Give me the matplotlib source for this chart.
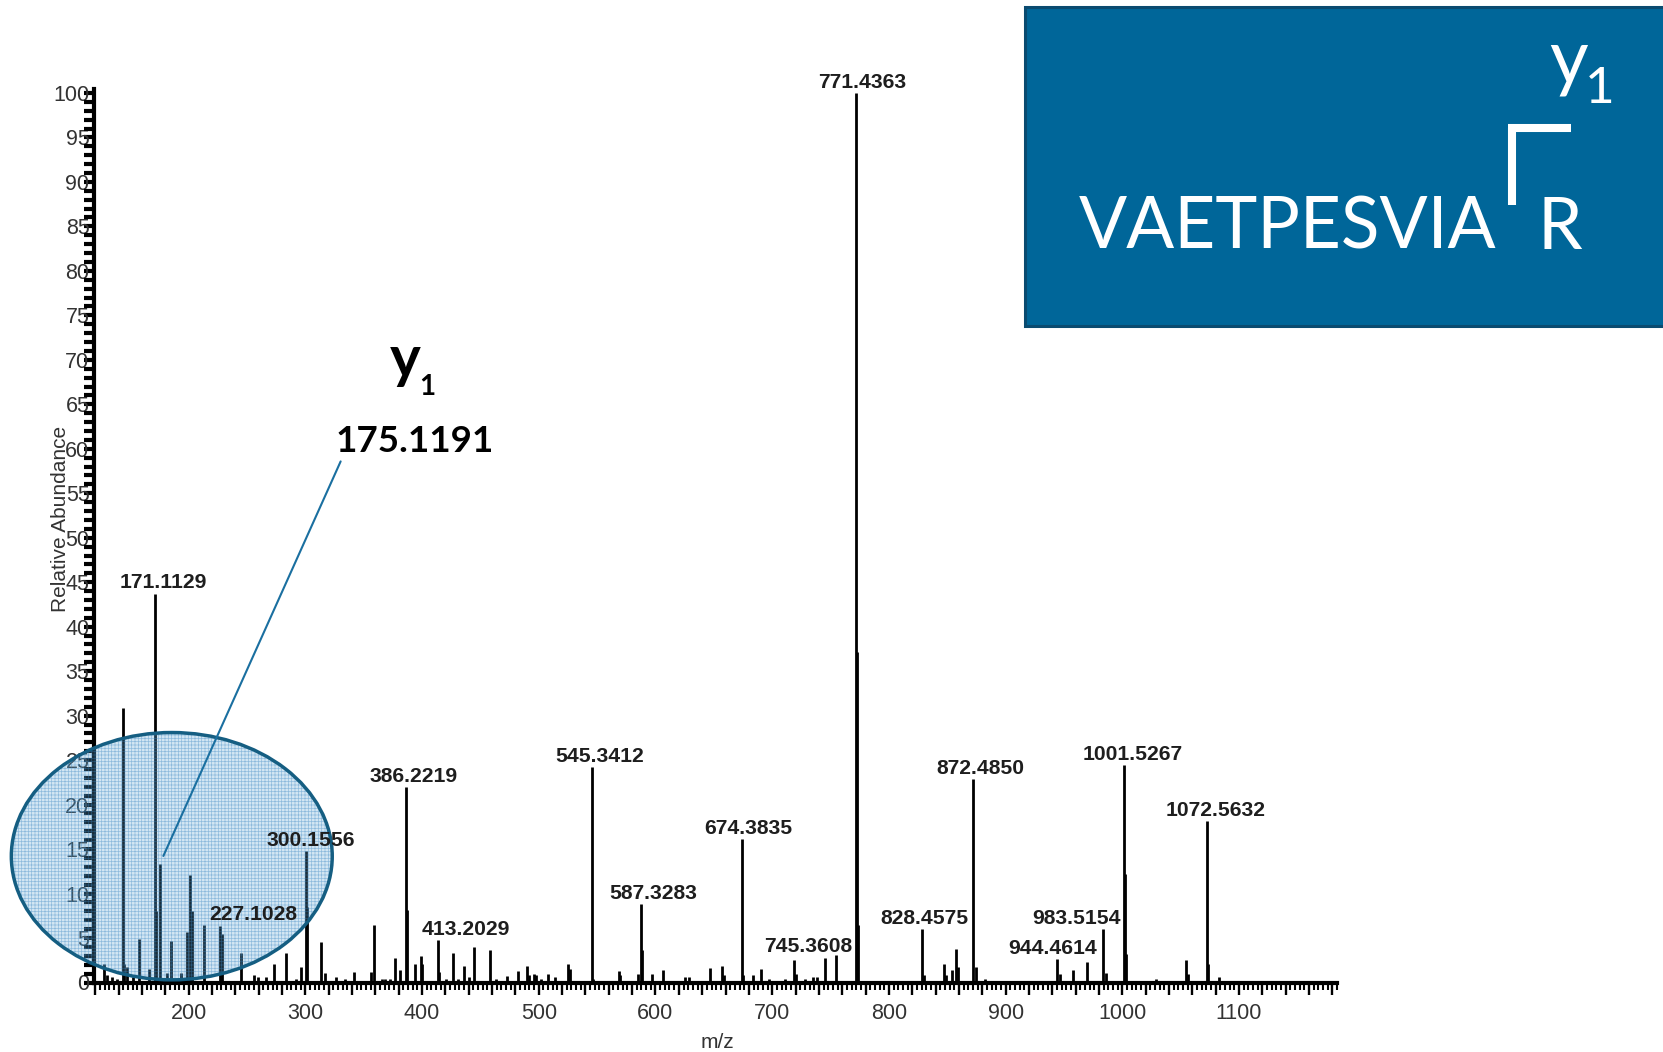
import matplotlib
matplotlib.use("Agg")
import matplotlib.pyplot as plt
from matplotlib.patches import Ellipse, Rectangle
from matplotlib.lines import Line2D
from matplotlib.ticker import MultipleLocator, FuncFormatter

# labelled fragment ions: m/z and relative abundance (%)
label_mz = [171.1129, 227.1028, 300.1556, 386.2219, 413.2029, 545.3412, 587.3283, 674.3835,
            745.3608, 771.4363, 828.4575, 872.4850, 944.4614, 983.5154, 1001.5267, 1072.5632]
label_int = [43.7, 6.4, 14.8, 22.0, 4.8, 24.2, 8.8, 16.1,
             2.8, 100.0, 6.0, 22.9, 2.6, 6.0, 24.4, 18.1]

# y1 ion called out with the ellipse
y1_mz = 175.1191
y1_int = 13.3

# remaining (unlabelled) peaks
peak_mz = [127.4, 129.7, 134.0, 138.9, 143.5, 144.9, 146.9, 152.6, 157.8, 166.4, 172.1, 181.4,
           184.8, 193.7, 198.6, 201.5, 202.5, 213.0, 228.8, 245.2, 256.1, 259.0, 266.2, 272.8,
           283.4, 292.0, 296.3, 301.5, 313.0, 316.4, 326.5, 333.7, 341.7, 356.1, 359.0, 365.3,
           368.0, 372.5, 377.0, 381.4, 387.2, 393.8, 398.7, 400.1, 414.2, 420.6, 426.3, 430.4,
           435.5, 439.8, 444.2, 458.0, 463.4, 472.4, 482.4, 490.2, 491.6, 496.0, 497.4, 502.3,
           508.3, 513.8, 524.7, 526.8, 546.3, 568.5, 569.9, 584.6, 588.3, 597.3, 606.8, 625.5,
           628.4, 646.5, 657.1, 658.6, 675.4, 683.9, 690.2, 697.4, 710.6, 718.6, 720.2, 728.5,
           734.6, 738.6, 754.6, 772.4, 773.4, 830.5, 847.4, 848.9, 854.4, 857.5, 859.6, 874.9,
           882.7, 946.6, 957.9, 969.6, 985.9, 1002.5, 1003.5, 1028.9, 1055.0, 1056.5, 1073.6,
           1082.7]
peak_int = [2.1, 0.8, 0.6, 0.4, 30.9, 2.1, 1.7, 0.6, 4.9, 1.5, 8.0, 1.1,
            4.7, 1.1, 5.7, 12.1, 8.0, 6.5, 5.5, 3.3, 0.8, 0.6, 0.6, 2.1,
            3.3, 0.4, 1.7, 8.5, 4.6, 1.1, 0.6, 0.4, 1.2, 1.2, 6.5, 0.4,
            0.4, 0.4, 2.7, 1.4, 8.1, 2.1, 3.0, 2.1, 1.2, 0.4, 3.3, 0.4,
            1.9, 0.6, 4.0, 3.7, 0.4, 0.7, 1.25, 1.9, 0.8, 0.9, 0.8, 0.4,
            0.9, 0.6, 2.1, 1.5, 0.4, 1.3, 0.8, 0.9, 3.6, 0.9, 1.4, 0.6,
            0.6, 1.6, 1.8, 0.8, 0.8, 0.8, 1.5, 0.4, 0.4, 2.5, 1.0, 0.4,
            0.6, 0.6, 3.1, 37.2, 6.5, 0.8, 2.1, 0.8, 1.4, 3.8, 1.7, 1.7,
            0.4, 0.9, 1.4, 2.3, 1.1, 12.2, 3.2, 0.4, 2.5, 0.9, 2.1,
            0.6]

# horizontal nudge (points) of each peak label
label_dx = [5.8, 23.4, 3.5, 5.5, 20.7, 5.4, 8.9, 4.5,
            -12.0, 4.7, 1.6, 5.0, -3.2, -18.8, 6.5, 6.0]

sequence = "VAETPESVIA"
c_term = "R"

AXIS_FONT = "Liberation Sans"
SLIDE_FONT = "Lato"
BLUE = "#006699"

plt.rcParams["hatch.linewidth"] = 0.5

fig = plt.figure(figsize=(16.63, 10.52), dpi=100)
W, H = 1663.0, 1052.0
ax = fig.add_axes([93.6 / W, 69.5 / H, 1243.4 / W, 894 / H])

all_mz = label_mz + [y1_mz] + peak_mz
all_int = label_int + [y1_int] + peak_int
ax.vlines(all_mz, 0, all_int, colors="black", lw=2.0, zorder=2)

for mz, inten, dx in zip(label_mz, label_int, label_dx):
    ax.annotate(f"{mz:.4f}", xy=(mz, inten), xytext=(dx, 3.8), textcoords="offset points",
                ha="center", va="baseline", fontsize=15.2, fontweight="bold",
                family=AXIS_FONT, color="#1e1e1e", zorder=4)

ax.set_xlim(118.5, 1184)
ax.set_ylim(0, 100.5)

for side in ("top", "right"):
    ax.spines[side].set_visible(False)
ax.spines["left"].set_linewidth(3.0)
ax.spines["bottom"].set_linewidth(3.0)

ax.yaxis.set_major_locator(MultipleLocator(5))
ax.yaxis.set_minor_locator(MultipleLocator(1))
ax.xaxis.set_major_locator(MultipleLocator(20))
ax.xaxis.set_minor_locator(MultipleLocator(4))
ax.xaxis.set_major_formatter(FuncFormatter(lambda v, p: f"{int(round(v))}" if round(v) % 100 == 0 else ""))

ax.tick_params(axis="y", which="both", direction="out", length=7.5, width=3.0, color="black")
ax.tick_params(axis="y", which="major", labelsize=15.5, labelcolor="#333333", pad=-4.5)
ax.tick_params(axis="x", which="major", direction="out", length=8.5, width=1.7,
               labelsize=15.5, labelcolor="#333333", pad=6.5)
ax.tick_params(axis="x", which="minor", direction="out", length=5, width=1.5)
for lab in ax.get_xticklabels() + ax.get_yticklabels():
    lab.set_family(AXIS_FONT)

ax.set_ylabel("Relative Abundance", family=AXIS_FONT, fontsize=15, color="#333333")
ax.yaxis.set_label_coords(-0.019, 0.5185)
ax.set_xlabel("m/z", family=AXIS_FONT, fontsize=15, color="#333333")
ax.xaxis.set_label_coords(0.5014, -0.057)

# highlight ellipse around the low-mass region
fill = Ellipse((185.5, 14.2), 275, 27.8, facecolor=(0.38, 0.66, 0.84, 0.28),
               edgecolor=(0.22, 0.52, 0.76, 0.45), hatch="+++++", lw=0, zorder=3, clip_on=False)
ax.add_patch(fill)
rim = Ellipse((185.5, 14.2), 275, 27.8, facecolor="none", edgecolor="#155e82",
              lw=2.5, zorder=3.5, clip_on=False)
ax.add_patch(rim)

# y1 call-out
ax.annotate("", xy=(y1_mz, y1_int), xytext=(130.3, 290), textcoords="offset points",
            arrowprops=dict(arrowstyle="-", color="#1a6fa0", lw=1.5, shrinkA=0, shrinkB=6.5),
            zorder=5)
ax.annotate(f"{y1_mz:.4f}", xy=(y1_mz, y1_int), xytext=(183.6, 297), textcoords="offset points",
            ha="center", va="baseline", fontsize=26.5, fontweight="bold", family=SLIDE_FONT,
            color="black", annotation_clip=False)
ax.annotate("y", xy=(y1_mz, y1_int), xytext=(166, 350.8), textcoords="offset points",
            ha="left", va="baseline", fontsize=42, fontweight="bold", family=SLIDE_FONT,
            color="black", annotation_clip=False)
ax.annotate("1", xy=(y1_mz, y1_int), xytext=(187, 338), textcoords="offset points",
            ha="left", va="baseline", fontsize=20, fontweight="bold", family=SLIDE_FONT,
            color="black", annotation_clip=False)

# peptide sequence panel
fig.add_artist(Rectangle((1025 / W, 1 - 325.6 / H), 0.40, 318.9 / H, transform=fig.transFigure,
                         facecolor=BLUE, edgecolor="#0a4b70", lw=2.2, zorder=1))
fig.text(1078.6 / W, 1 - 249 / H, sequence, ha="left", va="baseline", fontsize=51.2,
         family=SLIDE_FONT, color="white")
fig.text(1538 / W, 1 - 249 / H, c_term, ha="left", va="baseline", fontsize=51.2,
         family=SLIDE_FONT, color="white")
fig.add_artist(Line2D([1511.5 / W, 1511.5 / W], [1 - 128 / H, 1 - 205 / H], transform=fig.transFigure,
                      color="white", lw=5.8, solid_capstyle="butt"))
fig.add_artist(Line2D([1507.5 / W, 1571 / W], [1 - 128 / H, 1 - 128 / H], transform=fig.transFigure,
                      color="white", lw=5.8, solid_capstyle="butt"))
fig.text(1549 / W, 1 - 82 / H, "y", ha="left", va="baseline", fontsize=54,
         family=SLIDE_FONT, color="white")
fig.text(1585 / W, 1 - 103 / H, "1", ha="left", va="baseline", fontsize=37,
         family=SLIDE_FONT, color="white")

fig.savefig("out.png", dpi=100)
